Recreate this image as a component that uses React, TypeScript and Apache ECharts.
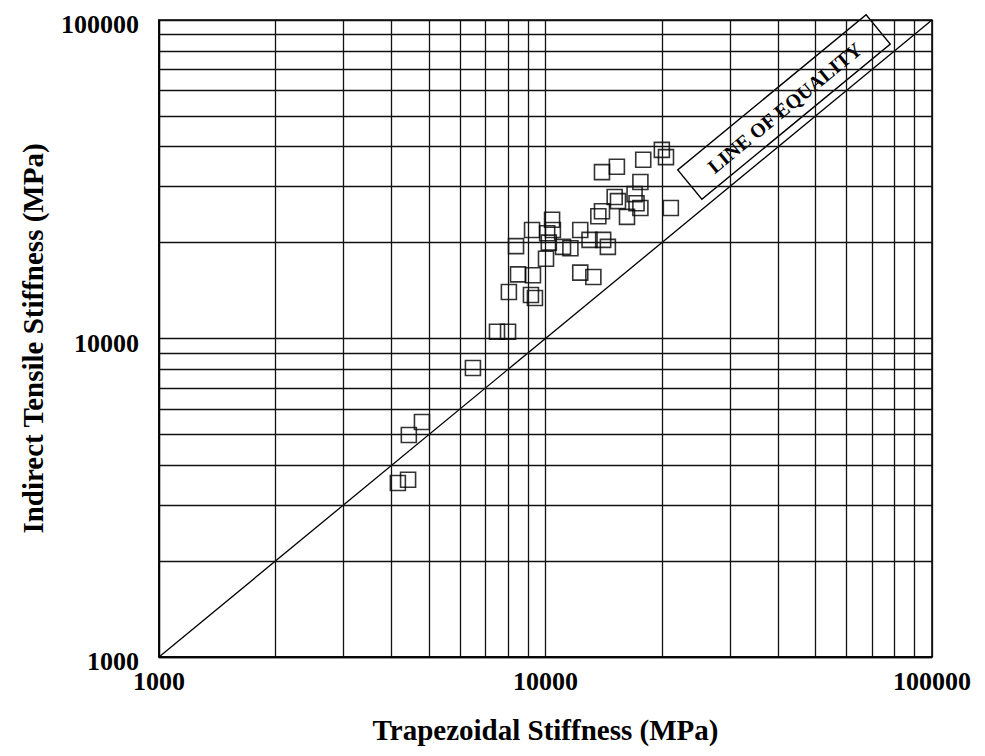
import React, { useEffect, useRef } from "react";
import * as echarts from "echarts";

// Trapezoidal stiffness (x, MPa) vs Indirect tensile stiffness (y, MPa)
const trapezoidal: number[] = [
  20000, 20500, 17900, 15300, 14000, 17600, 15100, 15400, 17000, 17200,
  17600, 16250, 14000, 13700, 21100, 12300, 13000, 14100, 14500, 11600,
  11100, 10400, 10450, 10100, 10200, 9230, 8390, 10030, 9280, 8490,
  8040, 9170, 9390, 12300, 13300, 7490, 8000, 6490, 4790, 4430,
  4410, 4150,
];
const indirectTensile: number[] = [
  39100, 37100, 36400, 34600, 33300, 31000, 27800, 27000, 28400, 26600,
  25700, 24100, 25100, 24200, 25700, 21900, 20400, 20400, 19400, 19200,
  19400, 23600, 21900, 21400, 20000, 21900, 19500, 17800, 15800, 15900,
  14000, 13700, 13400, 16100, 15600, 10500, 10500, 8080, 5470, 4980,
  3600, 3520,
];
const equalityLine: number[][] = [
  [1000, 1000],
  [100000, 100000],
];
const minorGridX: number[] = [2000, 3000, 4000, 5000, 6000, 7000, 8000, 9000, 20000, 30000, 40000, 50000, 60000, 70000, 80000, 90000];
const minorGridY: number[] = [2000, 3000, 4000, 5000, 6000, 7000, 8000, 9000, 20000, 30000, 40000, 50000, 60000, 70000, 80000, 90000];
const xTitle = "Trapezoidal Stiffness (MPa)";
const yTitle = "Indirect Tensile Stiffness (MPa)";
const annotation = "LINE OF EQUALITY";

const FONT = '"Liberation Serif", "Times New Roman", serif';

export default function App() {
  const ref = useRef<HTMLDivElement>(null);
  useEffect(() => {
    if (!ref.current) return;
    const chart = echarts.init(ref.current, null, { renderer: "svg" });
    const points = trapezoidal.map((x, i) => [x, indirectTensile[i]]);
    const gridLine = { color: "#111", width: 1.3, type: "solid" as const };
    const angle = Math.atan2(318.5, 386.5);
    chart.setOption({
      animation: false,
      backgroundColor: "#fff",
      grid: {
        left: 159,
        right: 53,
        top: 20,
        bottom: 99,
        show: true,
        borderColor: "#000",
        borderWidth: 1.5,
        backgroundColor: "transparent",
      },
      xAxis: {
        type: "log",
        logBase: 10,
        min: 1000,
        max: 100000,
        name: xTitle,
        nameLocation: "middle",
        nameGap: 58,
        nameTextStyle: { fontFamily: FONT, fontWeight: "bold", fontSize: 29, color: "#000" },
        axisLine: { show: true, lineStyle: { color: "#000", width: 1.5 } },
        axisTick: { show: false },
        axisLabel: {
          fontFamily: FONT,
          fontWeight: "bold",
          fontSize: 26,
          color: "#000",
          margin: 11,
          formatter: (v: number) => String(Math.round(v)),
        },
        splitLine: { show: true, lineStyle: gridLine },
      },
      yAxis: {
        type: "log",
        logBase: 10,
        min: 1000,
        max: 100000,
        name: yTitle,
        nameLocation: "middle",
        nameGap: 112,
        nameTextStyle: { fontFamily: FONT, fontWeight: "bold", fontSize: 29, color: "#000" },
        axisLine: { show: true, lineStyle: { color: "#000", width: 1.5 } },
        axisTick: { show: false },
        axisLabel: {
          fontFamily: FONT,
          fontWeight: "bold",
          fontSize: 26,
          color: "#000",
          margin: 20,
          verticalAlign: "top",
          lineHeight: 9,
          formatter: (v: number) => String(Math.round(v)),
        },
        splitLine: { show: true, lineStyle: gridLine },
      },
      series: [
        {
          type: "line",
          data: equalityLine,
          showSymbol: false,
          symbol: "none",
          silent: true,
          lineStyle: { color: "#000", width: 1.3 },
          markLine: {
            silent: true,
            symbol: ["none", "none"],
            label: { show: false },
            lineStyle: gridLine,
            emphasis: { disabled: true },
            data: [
              ...minorGridX.map((v) => ({ xAxis: v })),
              ...minorGridY.map((v) => ({ yAxis: v })),
            ],
          },
          z: 3,
        },
        {
          type: "scatter",
          data: points,
          symbol: "rect",
          symbolSize: 15,
          silent: true,
          itemStyle: { color: "rgba(0,0,0,0)", borderColor: "#000", borderWidth: 1.6 },
          z: 4,
        },
      ],
      graphic: [
        {
          type: "group",
          x: 784,
          y: 107,
          rotation: angle,
          z: 100,
          children: [
            {
              type: "rect",
              shape: { x: -122, y: -19, width: 244, height: 38 },
              style: { fill: "#fff", stroke: "#000", lineWidth: 1.4 },
            },
            {
              type: "text",
              style: {
                text: annotation,
                x: 0,
                y: 1,
                align: "center",
                verticalAlign: "middle",
                font: `bold 20px ${FONT}`,
                fill: "#000",
              },
            },
          ],
        },
      ],
    });
    return () => chart.dispose();
  }, []);
  return (
    <div
      ref={ref}
      style={{ position: "fixed", left: 0, top: 0, width: 985, height: 756, background: "#fff" }}
    />
  );
}
